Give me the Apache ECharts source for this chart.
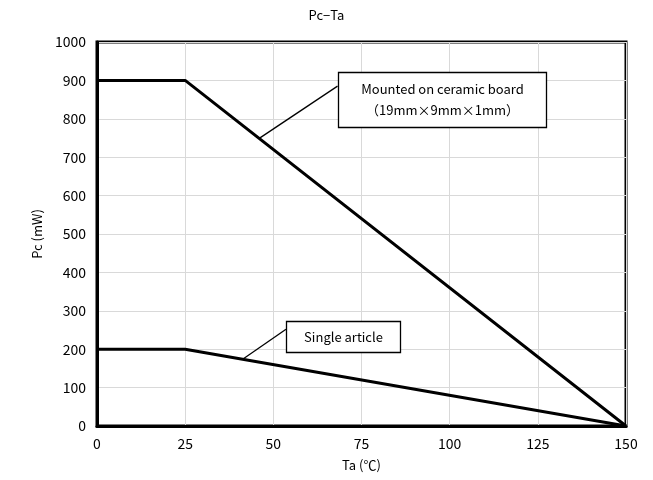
<!DOCTYPE html>
<html>
<head>
<meta charset="utf-8">
<script src="https://cdn.jsdelivr.net/npm/echarts@6/dist/echarts.min.js"></script>
<style>
  html, body { margin: 0; padding: 0; background: #fff; }
  #chart { width: 653px; height: 480px; }
</style>
</head>
<body>
<div id="chart"></div>
<script>
// Power dissipation derating (Pc vs ambient temperature Ta)
const temps = [0, 25, 150];
const ceramicBoard = [900, 900, 0];
const singleArticle = [200, 200, 0];
const xTicks = [0, 25, 50, 75, 100, 125, 150];
const yTicks = [0, 100, 200, 300, 400, 500, 600, 700, 800, 900, 1000];

// Callout labels: leader line start/end in data units, box corners in data units
const ceramicLabel = ['Mounted on ceramic board', '（19mm×9mm×1mm）'];
const ceramicLeader = [[46, 749], [68.2, 885]];
const ceramicBox = [[68.2, 921], [127.3, 779]];
const singleLabel = ['Single article'];
const singleLeader = [[41.3, 174], [53.6, 252]];
const singleBox = [[53.6, 274], [85.9, 192]];

const FONT = '"Noto Sans CJK JP", "DejaVu Sans", sans-serif';

const chart = echarts.init(document.getElementById('chart'));

const toPairs = (xs, ys) => xs.map((x, i) => [x, ys[i]]);

chart.setOption({
  animation: false,
  backgroundColor: '#fff',
  title: {
    text: 'Pc−Ta',
    left: 'center',
    top: 4,
    textStyle: { fontFamily: FONT, fontSize: 13, fontWeight: 'normal', color: '#000' }
  },
  grid: {
    left: 97, right: 27, top: 42, bottom: 54,
    show: true, borderColor: '#000', borderWidth: 3, backgroundColor: '#fff'
  },
  xAxis: {
    type: 'value',
    min: 0, max: 150, interval: 25,
    name: 'Ta (℃)',
    nameLocation: 'middle',
    nameGap: 33,
    nameTextStyle: { fontFamily: FONT, fontSize: 13, color: '#000' },
    axisLine: { show: true, lineStyle: { color: '#000', width: 3 } },
    axisTick: { show: false },
    axisLabel: {
      fontFamily: FONT, fontSize: 14, color: '#000', margin: 11,
      formatter: v => xTicks.includes(v) ? String(v) : ''
    },
    splitLine: { show: true, lineStyle: { color: '#d9d9d9', width: 1 } }
  },
  yAxis: {
    type: 'value',
    min: 0, max: 1000, interval: 100,
    name: 'Pc (mW)',
    nameLocation: 'middle',
    nameGap: 50,
    nameRotate: 90,
    nameTextStyle: { fontFamily: FONT, fontSize: 13, color: '#000' },
    axisLine: { show: true, lineStyle: { color: '#000', width: 3 } },
    axisTick: { show: false },
    axisLabel: {
      fontFamily: FONT, fontSize: 14, color: '#000', margin: 11,
      formatter: v => yTicks.includes(v) ? String(v) : ''
    },
    splitLine: { show: true, lineStyle: { color: '#d9d9d9', width: 1 } }
  },
  series: [
    {
      type: 'line', data: toPairs(temps, ceramicBoard), symbol: 'none',
      lineStyle: { color: '#000', width: 3 }, z: 5
    },
    {
      type: 'line', data: toPairs(temps, singleArticle), symbol: 'none',
      lineStyle: { color: '#000', width: 3 }, z: 5
    },
    {
      type: 'line', data: ceramicLeader, symbol: 'none',
      lineStyle: { color: '#000', width: 1.3 }, z: 4
    },
    {
      type: 'line', data: singleLeader, symbol: 'none',
      lineStyle: { color: '#000', width: 1.3 }, z: 4
    }
  ]
});

function calloutBox(corners, lines) {
  const p1 = chart.convertToPixel({ gridIndex: 0 }, corners[0]);
  const p2 = chart.convertToPixel({ gridIndex: 0 }, corners[1]);
  const x = Math.round(Math.min(p1[0], p2[0])) + 0.5;
  const y = Math.round(Math.min(p1[1], p2[1])) + 0.5;
  const w = Math.round(Math.abs(p2[0] - p1[0]));
  const h = Math.round(Math.abs(p2[1] - p1[1]));
  return [
    {
      type: 'rect', z: 10,
      shape: { x: x, y: y, width: w, height: h },
      style: { fill: '#fff', stroke: '#000', lineWidth: 1.3 }
    },
    {
      type: 'text', z: 11,
      x: x + w / 2, y: y + h / 2,
      style: {
        text: lines.join('\n'),
        fontFamily: FONT, fontSize: 13, fill: '#000',
        align: 'center', verticalAlign: 'middle', lineHeight: 21
      }
    }
  ];
}

chart.setOption({
  graphic: [].concat(
    calloutBox(ceramicBox, ceramicLabel),
    calloutBox(singleBox, singleLabel)
  )
});
</script>
</body>
</html>
